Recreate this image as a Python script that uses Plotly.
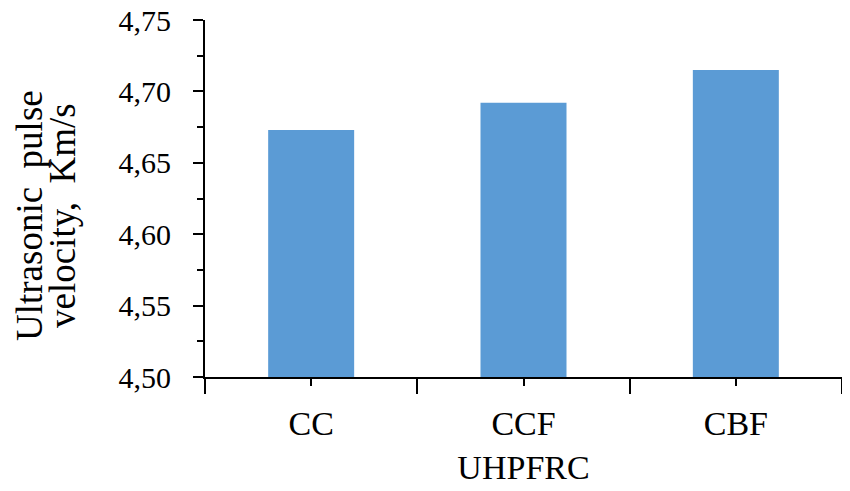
import plotly.graph_objects as go

categories = ["CC", "CCF<br>UHPFRC", "CBF"]
positions = [0, 1, 2]
velocity = [4.673, 4.692, 4.715]
y_ticks = [4.50, 4.55, 4.60, 4.65, 4.70, 4.75]
boundaries = [-0.5, 0.5, 1.5, 2.5]
title_lines = ["Ultrasonic  pulse", "velocity,  Km/s"]

font = "Liberation Serif, Times New Roman, serif"
W, H = 850, 491
PAGE_OFF = 8  # default body margin of the html page
# desired plot area in page pixels
X0, X1, Y0, Y1 = 205, 842, 20, 377
L = X0 - PAGE_OFF
T = Y0 - PAGE_OFF
R = W + PAGE_OFF - X1
B = H + PAGE_OFF - Y1
pw, ph = X1 - X0, Y1 - Y0

fig = go.Figure(go.Bar(
    x=positions, y=velocity, width=0.405,
    marker=dict(color="#5B9BD5", line=dict(width=0)),
    showlegend=False,
))

fig.update_layout(
    width=W, height=H,
    margin=dict(l=L, r=R, t=T, b=B, autoexpand=False),
    paper_bgcolor="white", plot_bgcolor="white",
    separators=",.",
    font=dict(family=font, size=30, color="black"),
)

fig.update_xaxes(
    range=[-0.5, 2.5], automargin=False,
    tickmode="array", tickvals=positions, ticktext=categories,
    ticks="outside", ticklen=7, tickwidth=2, tickcolor="black",
    minor=dict(tickmode="array", tickvals=boundaries, ticks="outside",
               ticklen=15, tickwidth=2, tickcolor="black"),
    showline=True, linecolor="black", linewidth=2,
    showgrid=False, zeroline=False,
    tickfont=dict(family=font, size=34),
    ticklabelstandoff=8,
    ticklabeloverflow="allow",
)

fig.update_yaxes(
    range=[4.50, 4.75], automargin=False,
    tickmode="array", tickvals=y_ticks, tickformat=".2f",
    ticks="outside", ticklen=10, tickwidth=2, tickcolor="black",
    minor=dict(dtick=0.025, ticks="outside", ticklen=6, tickwidth=2,
               tickcolor="black", showgrid=False),
    showline=True, linecolor="black", linewidth=2,
    showgrid=False, zeroline=False,
    tickfont=dict(family=font, size=30),
    ticklabelstandoff=16,
    ticklabeloverflow="allow",
)

# two-line rotated y-axis title (page pixel centres)
for text, px in zip(title_lines, [29, 62]):
    fig.add_annotation(
        text=text, textangle=-90, showarrow=False,
        xref="paper", yref="paper",
        x=(px - X0) / pw, y=(Y1 - 216) / ph,
        xanchor="center", yanchor="middle", borderpad=0,
        font=dict(family=font, size=37, color="black"),
    )

fig.write_html("out.html")
